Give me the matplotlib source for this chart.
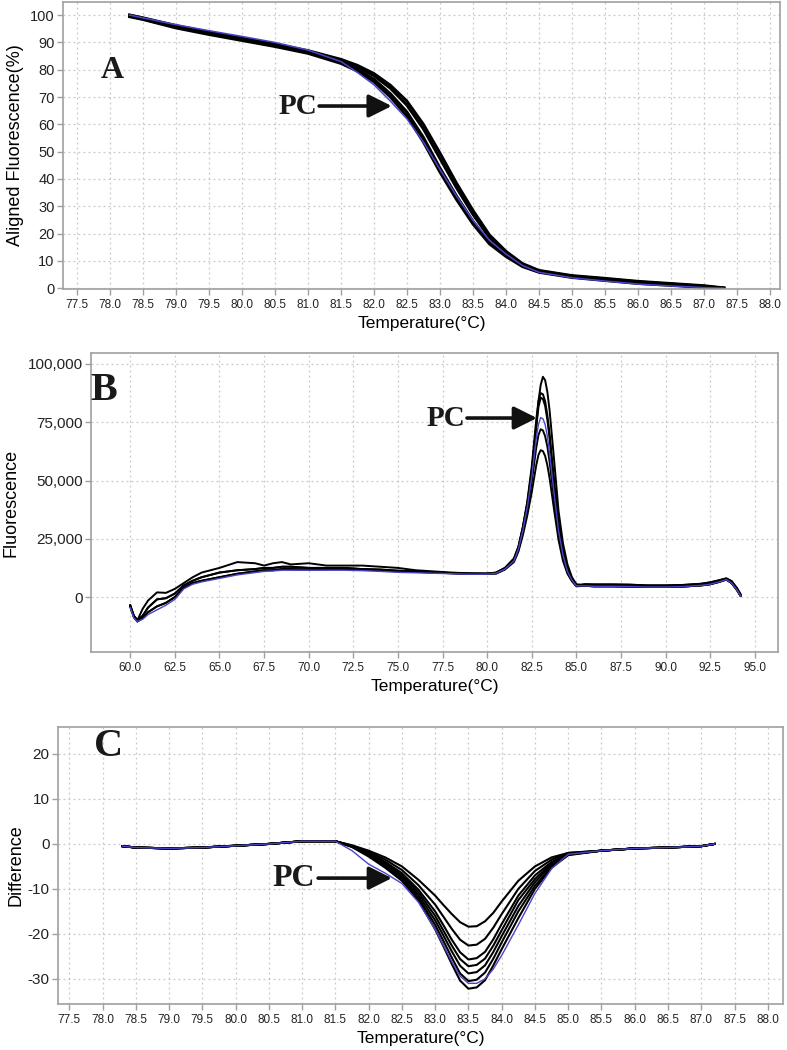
import numpy as np
import matplotlib
matplotlib.use("Agg")
import matplotlib.pyplot as plt
from matplotlib.ticker import FuncFormatter

plt.rcParams['font.family'] = ['Liberation Sans', 'DejaVu Sans']
plt.rcParams['axes.unicode_minus'] = False

# ---- panel A: aligned melt curves ----
ta = [78.3, 78.5, 79.0, 79.5, 80.0, 80.5, 81.0, 81.5, 81.75, 82.0, 82.25, 82.5, 82.75,
      83.0, 83.25, 83.5, 83.75, 84.0, 84.25, 84.5, 85.0, 85.5, 86.0, 86.5, 87.0, 87.3]
a_curves = [
    [100, 99.0, 96.2, 93.8, 91.6, 89.4, 87.0, 83.8, 81.6, 78.6, 74.3, 68.5, 60.0,
     49.5, 38.5, 28.5, 19.5, 13.5, 9.0, 6.5, 4.6, 3.6, 2.5, 1.7, 0.9, 0.1],
    [100, 98.9, 96.0, 93.6, 91.4, 89.2, 86.8, 83.4, 81.0, 77.8, 73.2, 67.0, 58.3,
     47.5, 36.8, 27.0, 18.5, 13.0, 8.7, 6.3, 4.4, 3.4, 2.3, 1.5, 0.7, 0.0],
    [99.6, 98.6, 95.6, 93.2, 91.0, 88.8, 86.3, 82.8, 80.2, 76.5, 71.2, 64.5, 55.2,
     44.0, 33.8, 24.5, 16.8, 12.0, 8.2, 6.0, 4.1, 3.0, 1.9, 1.2, 0.4, 0.0],
    [99.4, 98.4, 95.3, 92.9, 90.7, 88.5, 86.0, 82.3, 79.5, 75.6, 70.0, 63.0, 53.5,
     42.5, 32.5, 23.5, 16.2, 11.6, 7.9, 5.8, 3.9, 2.8, 1.7, 1.0, 0.3, 0.0],
]
a_pc = [100, 99.0, 96.5, 94.3, 92.2, 90.0, 87.2, 83.0, 79.0, 74.5, 68.5, 62.0, 53.5,
        43.5, 33.8, 24.8, 17.5, 12.5, 8.3, 5.8, 3.8, 2.6, 1.5, 0.8, 0.2, 0.0]

# ---- panel B: melt peaks ----
tb_left = [60.0, 60.2, 60.4, 60.7, 61.0, 61.5, 62.0, 62.5, 63.0, 63.5, 64.0, 65.0, 66.0,
           67.0, 67.5, 68.0, 68.5, 69.0, 70.0, 71.0, 72.0, 73.0, 74.0, 75.0, 76.0, 77.0,
           78.0, 79.0, 80.0]
b_base_low = [-4000, -8500, -10500, -9000, -6500, -4000, -2500, 0, 4000, 6000, 7000, 8500,
              10000, 11000, 11500, 11500, 12000, 12000, 11800, 12000, 12000, 11800, 11500,
              11000, 10800, 10500, 10200, 10000, 10000]
b_base_lower = [-4500, -9000, -10500, -9500, -7500, -5500, -3500, -1000, 3500, 5500, 6500,
                8000, 9500, 10500, 11000, 11200, 11500, 11500, 11500, 11500, 11500, 11300,
                11000, 10600, 10400, 10200, 10000, 9800, 9800]
b_base_mid = [-3500, -8000, -10000, -8000, -4500, -1000, -500, 1500, 5000, 7000, 8500, 10500,
              11500, 12000, 12500, 12500, 13000, 13000, 12500, 12500, 12500, 12000, 11800,
              11300, 11000, 10600, 10300, 10000, 10000]
b_base_up = [-4000, -8000, -10000, -5000, -1500, 2000, 1800, 3500, 6000, 8500, 10500, 12500,
             15000, 14500, 13500, 14500, 15000, 14000, 14500, 13500, 13500, 13500, 13000,
             12500, 11500, 11000, 10500, 10200, 10000]

tb_peak = [80.5, 81.0, 81.5, 81.75, 82.0, 82.25, 82.5, 82.75, 82.875, 83.0, 83.125, 83.25,
           83.375, 83.5, 83.75, 84.0, 84.25, 84.5, 84.75, 85.0]
b_p95 = [10500, 12500, 16500, 21500, 30000, 40000, 54000, 73000, 84000, 91000, 94500, 93000,
         88000, 80000, 59000, 37000, 23000, 14000, 8500, 5500]
b_p88 = [10500, 12500, 16500, 21500, 30000, 41000, 56000, 76000, 84000, 87500, 87000, 84000,
         78000, 70000, 50000, 32000, 20000, 12500, 8000, 5200]
b_p86 = [10300, 12300, 16000, 21000, 29500, 40000, 54000, 73000, 81500, 85500, 85000, 82000,
         76000, 68000, 48500, 31000, 19500, 12000, 7800, 5000]
b_p77 = [10200, 12000, 15500, 20500, 28500, 38500, 51500, 68000, 74000, 77000, 76500, 74000,
         69000, 61500, 44500, 28500, 18000, 11000, 7200, 4800]
b_p72 = [10200, 12000, 15500, 20000, 28000, 37500, 49500, 64000, 69500, 72000, 71500, 69000,
         64500, 58000, 42000, 27000, 17000, 10500, 7000, 4800]
b_p63 = [10000, 11800, 15000, 19500, 26500, 35000, 45000, 56500, 61000, 63000, 62600, 60500,
         56500, 51000, 37500, 24500, 15500, 10000, 6800, 4600]

tb_right = [85.5, 86.0, 87.0, 88.0, 89.0, 90.0, 91.0, 92.0, 92.5, 93.0, 93.4, 93.7, 94.0, 94.2]
b_tail_a = [4800, 4600, 4600, 4500, 4300, 4300, 4500, 5000, 5500, 6500, 7500, 6000, 3000, 500]
b_tail_b = [5500, 5400, 5400, 5300, 5000, 5000, 5200, 5700, 6300, 7200, 8000, 6800, 3800, 1200]

# ---- panel C: difference plot ----
tc_left = [78.3, 78.5, 79.0, 79.5, 80.0, 80.5, 81.0, 81.5]
c_left = [-0.5, -0.8, -1.0, -0.8, -0.4, 0.0, 0.6, 0.6]
tc_dip = [81.75, 82.0, 82.25, 82.5, 82.75, 83.0, 83.125, 83.25, 83.375, 83.5, 83.625, 83.75,
          83.875, 84.0, 84.25, 84.5, 84.75, 85.0]
c_dips = [
    [-0.3, -1.5, -3.0, -5.0, -8.0, -11.5, -13.6, -15.6, -17.4, -18.4, -18.3, -17.2, -15.3, -12.8, -8.2, -5.0, -3.0, -2.0],
    [-0.4, -1.8, -3.5, -5.8, -9.2, -13.5, -16.2, -18.9, -21.3, -22.6, -22.4, -21.1, -18.6, -15.6, -10.0, -6.0, -3.5, -2.0],
    [-0.5, -2.0, -4.0, -6.5, -10.2, -15.0, -18.1, -21.3, -24.1, -25.7, -25.4, -24.0, -21.2, -17.8, -11.5, -7.0, -4.0, -2.2],
    [-0.5, -2.2, -4.3, -7.0, -10.8, -16.0, -19.3, -22.6, -25.6, -27.2, -26.9, -25.5, -22.6, -19.2, -12.5, -7.8, -4.3, -2.2],
    [-0.6, -2.4, -4.6, -7.4, -11.4, -17.0, -20.4, -23.9, -27.1, -28.8, -28.5, -27.0, -24.0, -20.5, -13.8, -8.5, -4.6, -2.3],
    [-0.6, -2.6, -5.0, -7.8, -12.0, -18.0, -21.6, -25.3, -28.8, -30.5, -30.2, -28.6, -25.5, -21.9, -15.0, -9.3, -5.0, -2.4],
    [-0.7, -2.8, -5.3, -8.2, -12.6, -19.0, -22.8, -26.7, -30.4, -32.2, -31.9, -30.3, -27.0, -23.4, -16.5, -10.0, -5.3, -2.5],
]
c_pc_dip = [-1.5, -4.5, -6.5, -8.8, -13.0, -19.0, -22.6, -26.2, -29.4, -31.0, -31.0, -30.0,
            -27.8, -24.8, -18.0, -11.0, -5.5, -2.3]
tc_right = [85.5, 86.0, 86.5, 87.0, 87.2]
c_right = [-1.5, -1.0, -0.8, -0.5, 0.0]

BLUE = '#4a45c8'
GRID = '#c8c8c8'
SPINE = '#a0a0a0'

fig = plt.figure(figsize=(7.87, 10.5), dpi=100)
axA = fig.add_axes([0.080, 0.7248, 0.911, 0.2733])
axB = fig.add_axes([0.1156, 0.379, 0.873, 0.2848])
axC = fig.add_axes([0.0737, 0.0438, 0.9213, 0.2638])


def style(ax, xt, yt, ytsize):
    ax.set_xticks(xt)
    ax.set_yticks(yt)
    ax.grid(True, color=GRID, linestyle=(0, (1.5, 2.5)), linewidth=0.9)
    ax.set_axisbelow(True)
    for s in ax.spines.values():
        s.set_color(SPINE)
        s.set_linewidth(1.2)
    ax.tick_params(axis='both', color=SPINE, length=4, width=1, colors='#222222')
    ax.tick_params(axis='x', labelsize=8.5, pad=3)
    ax.tick_params(axis='y', labelsize=ytsize, pad=2)


# panel A
for y in a_curves:
    axA.plot(ta, y, color='black', lw=2.1)
axA.plot(ta, a_pc, color=BLUE, lw=1.1)
axA.set_xlim(77.29, 88.15)
axA.set_ylim(-0.3, 104.8)
style(axA, np.arange(77.5, 88.01, 0.5), np.arange(0, 101, 10), 10.5)
axA.xaxis.set_major_formatter(FuncFormatter(lambda v, p: f'{v:.1f}'))
axA.set_xlabel('Temperature(°C)', fontsize=12.5, labelpad=4)
axA.set_ylabel('Aligned Fluorescence(%)', fontsize=13, labelpad=4)

# panel B
tb = tb_left + tb_peak + tb_right
b_set = [
    (b_base_low, b_p95, b_tail_a, 'black', 1.4),
    (b_base_mid, b_p88, b_tail_b, 'black', 1.4),
    (b_base_up, b_p86, b_tail_a, 'black', 1.4),
    (b_base_low, b_p72, b_tail_b, 'black', 1.4),
    (b_base_mid, b_p63, b_tail_a, 'black', 1.4),
    (b_base_lower, b_p77, b_tail_a, BLUE, 1.0),
]
for left, peak, tail, col, lw in b_set:
    axB.plot(tb, left + peak + tail, color=col, lw=lw)
axB.set_xlim(57.8, 96.3)
axB.set_ylim(-23600, 104700)
style(axB, np.arange(60, 95.1, 2.5), np.arange(0, 100001, 25000), 11)
axB.xaxis.set_major_formatter(FuncFormatter(lambda v, p: f'{v:.1f}'))
axB.yaxis.set_major_formatter(FuncFormatter(lambda v, p: f'{int(v):,}'))
axB.set_xlabel('Temperature(°C)', fontsize=12.5, labelpad=4)
axB.set_ylabel('Fluorescence', fontsize=13, labelpad=6)

# panel C
tc = tc_left + tc_dip + tc_right
for d in c_dips:
    axC.plot(tc, c_left + d + c_right, color='black', lw=1.5)
axC.plot(tc, c_left + c_pc_dip + c_right, color=BLUE, lw=1.0)
axC.set_xlim(77.33, 88.23)
axC.set_ylim(-35.6, 26)
style(axC, np.arange(77.5, 88.01, 0.5), np.arange(-30, 21, 10), 11)
axC.xaxis.set_major_formatter(FuncFormatter(lambda v, p: f'{v:.1f}'))
axC.set_xlabel('Temperature(°C)', fontsize=12.5, labelpad=4)
axC.set_ylabel('Difference', fontsize=13, labelpad=2)

# PC arrows and panel letters
arrow = dict(arrowstyle='-|>,head_length=0.7,head_width=0.35', lw=2.6, color='#111111',
             mutation_scale=20, shrinkA=0, shrinkB=0)
serif = dict(family=['Liberation Serif', 'DejaVu Serif'], weight='bold', color='#1a1a1a')
axA.annotate('', xy=(82.27, 66.7), xytext=(81.17, 66.7), arrowprops=arrow)
axA.text(81.14, 66.7, 'PC', ha='right', va='center', fontsize=21, **serif)
axB.annotate('', xy=(82.79, 76800), xytext=(78.87, 76800), arrowprops=arrow)
axB.text(78.8, 76800, 'PC', ha='right', va='center', fontsize=21, **serif)
axC.annotate('', xy=(82.35, -7.6), xytext=(81.24, -7.6), arrowprops=arrow)
axC.text(81.2, -7.6, 'PC', ha='right', va='center', fontsize=23, **serif)

fig.text(112.5 / 787, 1 - 71 / 1050, 'A', ha='center', va='center', fontsize=23, **serif)
fig.text(104 / 787, 1 - 390 / 1050, 'B', ha='center', va='center', fontsize=29, **serif)
fig.text(109 / 787, 1 - 747 / 1050, 'C', ha='center', va='center', fontsize=29, **serif)

fig.savefig('out.png', dpi=100, facecolor='white')
